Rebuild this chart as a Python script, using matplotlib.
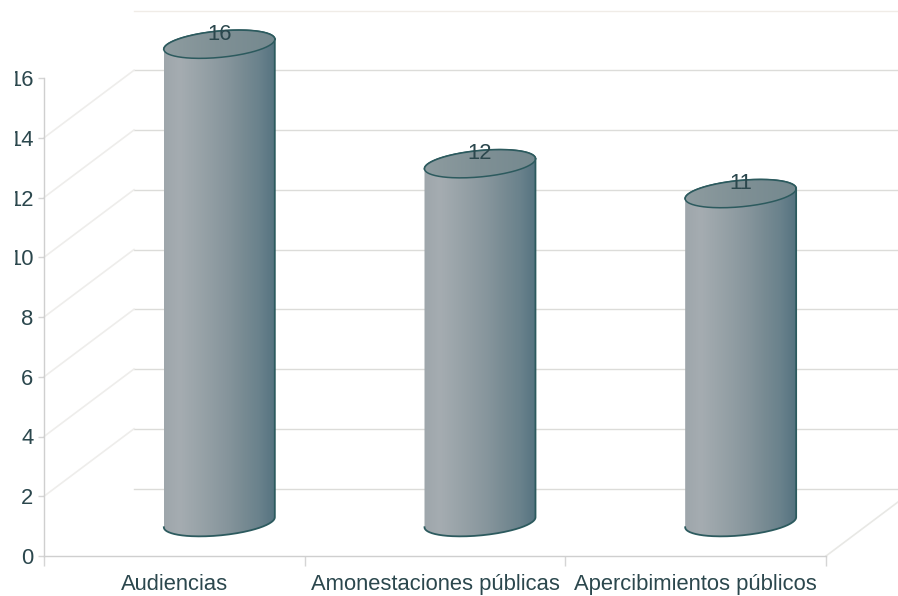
import numpy as np
import matplotlib
matplotlib.use("Agg")
import matplotlib.pyplot as plt
from matplotlib.path import Path
from matplotlib.patches import PathPatch
from matplotlib.colors import LinearSegmentedColormap
from matplotlib.transforms import Bbox

categories = ["Audiencias", "Amonestaciones públicas", "Apercibimientos públicos"]
values = [16, 12, 11]
y_ticks = [0, 2, 4, 6, 8, 10, 12, 14, 16]

W, H = 898, 596
plt.rcParams["font.family"] = ["Liberation Sans", "DejaVu Sans"]
fig = plt.figure(figsize=(W / 100, H / 100), dpi=100, facecolor="white")
ax = fig.add_axes([44 / W, (H - 556) / H, 782 / W, 478 / H])
ax.set_xlim(0, 3)
ax.set_ylim(0, 16)

px = 3 / 782          # data x units per pixel
py = 16 / 478         # data y units per pixel
dx, dy = 90 * px, 67.5 * py    # depth offset of the back wall
hw = 55.5 * px        # cylinder half width
shear, hh = 5 * py, 13.2 * py  # ellipse shape

TEXT = "#2b474d"
GRID = "#dcdcd9"
EDGE = "#2c5a5e"

# Back wall gridlines and side wall diagonals
for v in y_ticks:
    col = "#f0ece7" if v == 16 else GRID
    ax.plot([dx, 3.3], [v + dy, v + dy], color=col, lw=1.0, clip_on=False, zorder=1)
for v in y_ticks[1:-1]:
    ax.plot([0, dx], [v, v + dy], color="#eeedeb", lw=1.2, clip_on=False, zorder=1)
ax.plot([3, 3 + dx], [0, dy], color="#e8e8e5", lw=1.2, clip_on=False, zorder=1)

body_cmap = LinearSegmentedColormap.from_list(
    "body", ["#9ea6ab", "#a5acb1", "#9ba5aa", "#919da3", "#86959c", "#788b93", "#6a828c", "#557380"])
top_cmap = LinearSegmentedColormap.from_list(
    "top", ["#8e9ca0", "#7f9095", "#75898f"])
grad = np.linspace(0, 1, 256).reshape(1, -1)

t = np.linspace(0, 2 * np.pi, 181)
for i, v in enumerate(values):
    cx = i + 0.5 + dx / 2
    base = dy / 2
    top = v + dy / 2
    ex = lambda a: cx + hw * np.cos(a)
    ey = lambda a, c: c + shear * np.cos(a) + hh * np.sin(a)

    # cylinder body: lower half of base ellipse, then up and across the top ellipse
    a_low = np.linspace(np.pi, 2 * np.pi, 91)
    a_up = np.linspace(0, np.pi, 91)
    bx = np.r_[ex(a_low), ex(a_up)]
    by = np.r_[ey(a_low, base), ey(a_up, top)]
    body = PathPatch(Path(np.c_[bx, by]), transform=ax.transData, fc="none",
                     ec="none", zorder=3)
    ax.add_patch(body)
    im = ax.imshow(grad, extent=[cx - hw, cx + hw, base - 1, top + 1], cmap=body_cmap,
                   aspect="auto", zorder=3, interpolation="bilinear")
    im.set_clip_box(fig.bbox)
    im.set_clip_path(body)
    ax.plot(bx, by, color=EDGE, lw=1.3, clip_on=False, zorder=4)

    # top ellipse
    cap = PathPatch(Path(np.c_[ex(t), ey(t, top)]), transform=ax.transData, fc="none",
                    ec="none", zorder=5)
    ax.add_patch(cap)
    im2 = ax.imshow(grad, extent=[cx - hw, cx + hw, top - 1, top + 1], cmap=top_cmap,
                    aspect="auto", zorder=5, interpolation="bilinear")
    im2.set_clip_box(fig.bbox)
    im2.set_clip_path(cap)
    ax.plot(ex(t), ey(t, top), color=EDGE, lw=1.1, clip_on=False, zorder=6)

    ax.text(cx, top + 0.34, str(v), ha="center", va="center", fontsize=15.8,
            color=TEXT, zorder=7, clip_on=False)

ax.set_xlim(0, 3)
ax.set_ylim(0, 16)

for s in ("top", "right"):
    ax.spines[s].set_visible(False)
for s in ("left", "bottom"):
    ax.spines[s].set_color("#cfcfcf")
    ax.spines[s].set_linewidth(1.0)

ax.set_yticks(y_ticks)
ax.tick_params(axis="y", length=4.5, width=1, color="#d5d5d5", labelsize=15.8,
               labelcolor=TEXT, pad=3)
ax.set_xticks([0.5, 1.5, 2.5], categories)
ax.set_xticks([0, 1, 2, 3], minor=True)
ax.tick_params(axis="x", which="major", length=0, labelsize=15.8, labelcolor=TEXT, pad=13)
ax.tick_params(axis="x", which="minor", length=7.2, width=1, color="#d5d5d5")

# The reference crops the y labels at its left edge
clip = Bbox([[15, 0], [W, H]])
fig.canvas.draw()
for lab in ax.get_yticklabels():
    lab.set_clip_box(clip)
    lab.set_clip_on(True)

fig.savefig("out.png", dpi=100, facecolor="white")
